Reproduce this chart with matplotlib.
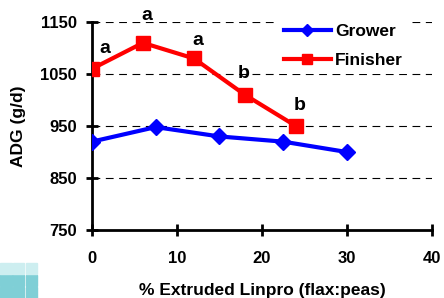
import matplotlib
matplotlib.use("Agg")
import matplotlib.pyplot as plt
from matplotlib.patches import Rectangle

plt.rcParams['font.family'] = ['Liberation Sans', 'DejaVu Sans']

grower_x = [0, 7.5, 15, 22.5, 30]
grower_y = [920, 948, 930, 920, 900]
finisher_x = [0, 6, 12, 18, 24]
finisher_y = [1060, 1110, 1080, 1010, 950]
letters = ['a', 'a', 'a', 'b', 'b']
letter_x = [1.5, 6.5, 12.5, 17.9, 24.4]
letter_y = [1090, 1154, 1106, 1042, 981]
xticks = [0, 10, 20, 30, 40]
yticks = [750, 850, 950, 1050, 1150]

fig = plt.figure(figsize=(4.44, 2.98), dpi=100)
ax = fig.add_axes([0.207, 0.228, 0.766, 0.698])

for yv in yticks[1:]:
    ax.axhline(yv, color='black', lw=0.8, ls=(0, (7, 5)), zorder=1)

ax.plot(grower_x, grower_y, color='#0000FF', lw=3, marker='D', ms=8, label='Grower', zorder=3)
ax.plot(finisher_x, finisher_y, color='#FF0000', lw=3, marker='s', ms=9.5, label='Finisher', zorder=3)

for x, y, t in zip(letter_x, letter_y, letters):
    ax.text(x, y, t, fontsize=14, fontweight='bold', ha='center', va='baseline')

ax.set_xlim(0, 40)
ax.set_ylim(750, 1150)
ax.set_xticks(xticks)
ax.set_yticks(yticks)
ax.spines['top'].set_visible(False)
ax.spines['right'].set_visible(False)
ax.spines['left'].set_linewidth(2)
ax.spines['bottom'].set_linewidth(2)
ax.tick_params(direction='inout', length=8, width=2, labelsize=12)
ax.tick_params(axis='x', pad=11)
ax.tick_params(axis='y', pad=7)
for lab in ax.get_xticklabels() + ax.get_yticklabels():
    lab.set_fontweight('bold')
ax.set_xlabel('% Extruded Linpro (flax:peas)', fontsize=12.5, fontweight='bold', labelpad=12)
ax.set_ylabel('ADG (g/d)', fontsize=12.5, fontweight='bold', labelpad=10)

leg = ax.legend(loc='center', bbox_to_anchor=(0.74, 0.885), bbox_transform=ax.transAxes,
                frameon=True, facecolor='white', edgecolor='none', framealpha=1,
                prop={'weight': 'bold', 'size': 12.5}, handlelength=2.7, markerscale=0.75,
                handletextpad=0.25, labelspacing=0.75, borderpad=0.35)

# small decorative logo tiles bottom-left
for i in range(3):
    for j in range(3):
        fig.patches.append(Rectangle((0.0 + i * 0.029, 0.0 + j * 0.04), 0.026, 0.036,
                                     transform=fig.transFigure,
                                     color='#7fcfd6' if j < 2 else '#cdeef0', zorder=0))

fig.savefig('out.png', dpi=100)
